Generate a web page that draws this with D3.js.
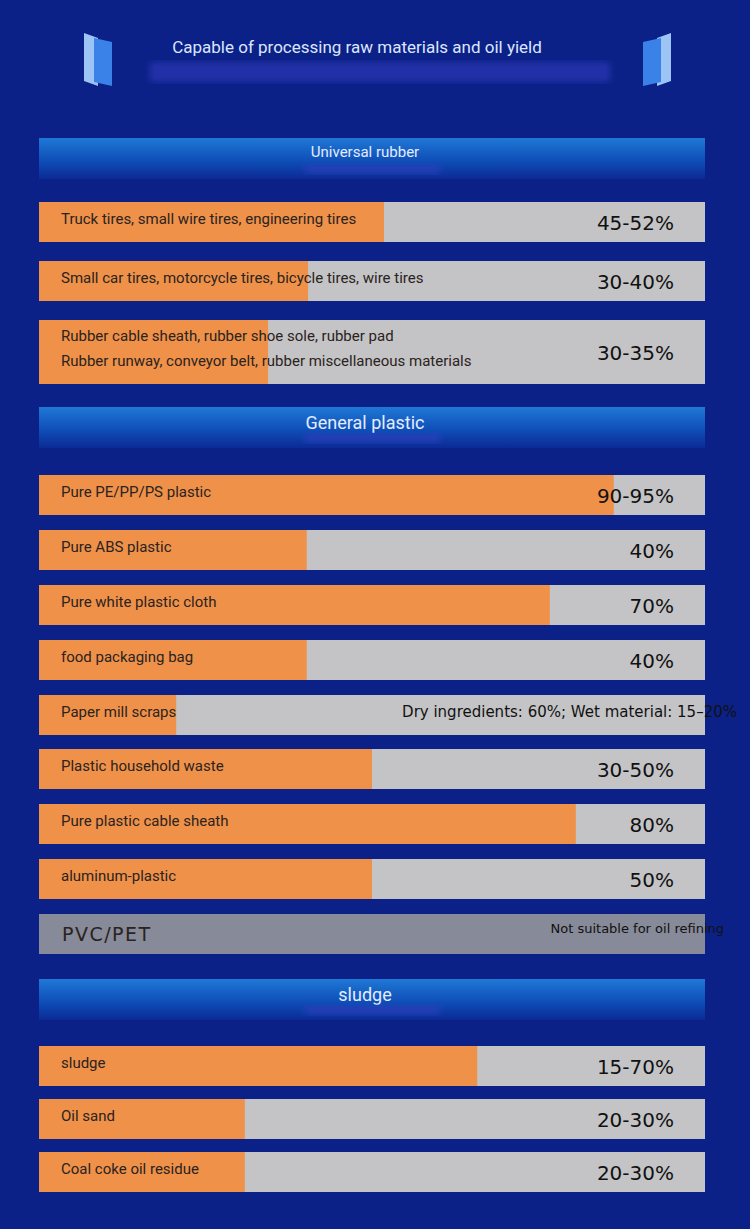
<!DOCTYPE html>
<html><head><meta charset="utf-8">
<script src="https://cdn.jsdelivr.net/npm/d3@7"></script>
<style>body{margin:0;background:#0b2187;}svg{display:block;}</style>
</head><body><svg id="chart" width="750" height="1229"></svg>
<script>
// ── Data ──────────────────────────────────────────
const sections = ["Universal rubber", "General plastic", "sludge"];
const labels = [
  ["Truck tires, small wire tires, engineering tires"],
  ["Small car tires, motorcycle tires, bicycle tires, wire tires"],
  ["Rubber cable sheath, rubber shoe sole, rubber pad", "Rubber runway, conveyor belt, rubber miscellaneous materials"],
  ["Pure PE/PP/PS plastic"], ["Pure ABS plastic"], ["Pure white plastic cloth"], ["food packaging bag"],
  ["Paper mill scraps"], ["Plastic household waste"], ["Pure plastic cable sheath"], ["aluminum-plastic"],
  ["PVC/PET"], ["sludge"], ["Oil sand"], ["Coal coke oil residue"]
];
const rowSection = [0,0,0,1,1,1,1,1,1,1,1,1,2,2,2];
const values = [51.8, 40.4, 34.4, 86.3, 40.2, 76.7, 40.2, 20.6, 50, 80.6, 50, 0, 65.8, 30.9, 30.9];
const yieldText = ["45-52%","30-40%","30-35%","90-95%","40%","70%","40%",
  "Dry ingredients: 60%; Wet material: 15–20%","30-50%","80%","50%",
  "Not suitable for oil refining","15-70%","20-30%","20-30%"];

const svg = d3.select('#chart');
const x = d3.scaleLinear().domain([0, 100]).range([39, 705]);

/* ── Title ─────────────────────────────────────── */
const defs = svg.append('defs');
const hg = defs.append('linearGradient').attr('id','hdr').attr('x1',0).attr('x2',0).attr('y1',0).attr('y2',1);
hg.append('stop').attr('offset',0).attr('stop-color','#1f78d6');
hg.append('stop').attr('offset',0.55).attr('stop-color','#0f4fb8');
hg.append('stop').attr('offset',1).attr('stop-color','#0b2a95');
defs.append('filter').attr('id','blur').append('feGaussianBlur').attr('stdDeviation',3);

[[84,112,1],[643,671,-1]].forEach(([a,b,d]) => {
  const g = svg.append('g');
  g.append('path').attr('d', d>0 ? `M${a},33 L${a+14},38 L${a+14},86 L${a},81Z` : `M${b},33 L${b-14},38 L${b-14},86 L${b},81Z`).attr('fill','#9cc4f5');
  g.append('path').attr('d', d>0 ? `M${a+10},38 L${b},42 L${b},86 L${a+10},82Z` : `M${b-10},38 L${a},42 L${a},86 L${b-10},82Z`).attr('fill','#3b82e8');
});
svg.append('text').attr('x',357).attr('y',53).attr('text-anchor','middle')
  .attr('font-family','Roboto, sans-serif').attr('font-size',17).attr('fill','#dce6ff')
  .text('Capable of processing raw materials and oil yield');
svg.append('rect').attr('x',150).attr('y',62).attr('width',460).attr('height',20).attr('fill','#3a3fc8').attr('opacity',0.5).attr('filter','url(#blur)');

/* ── Layout ────────────────────────────────────── */
const headerTops = [138, 407, 979];
const rowTops = [202, 261, 320, 475, 530, 585, 640, 695, 749, 804, 859, 914, 1046, 1099, 1152];
const rowH = i => labels[i].length > 1 ? 64 : 40;

headerTops.forEach((t, i) => {
  svg.append('rect').attr('x', x(0)).attr('y', t).attr('width', x(100)-x(0)).attr('height', 41).attr('fill','url(#hdr)');
  svg.append('text').attr('x', 365).attr('y', t + (i===0?19:22)).attr('text-anchor','middle')
    .attr('font-family','Roboto, sans-serif').attr('font-size', i===0?15:18).attr('fill','#e4ecff').text(sections[i]);
  svg.append('rect').attr('x',305).attr('y',t+26).attr('width',135).attr('height',10).attr('fill','#3340c0').attr('opacity',0.6).attr('filter','url(#blur)');
});

const rows = svg.selectAll('g.row').data(values).join('g').attr('class','row')
  .attr('transform', (d,i) => `translate(0,${rowTops[i]})`);
rows.append('rect').attr('x', x(0)).attr('width', x(100)-x(0)).attr('height', (d,i)=>rowH(i))
  .attr('fill', (d,i) => i===11 ? '#878a98' : '#c4c4c6');
rows.append('rect').attr('x', x(0)).attr('width', d => x(d)-x(0)).attr('height', (d,i)=>rowH(i)).attr('fill','#ef9149');
rows.each(function(d,i){
  const g = d3.select(this), n = labels[i].length;
  labels[i].forEach((l,k) => g.append('text').attr('x', i===11?62:61)
    .attr('y', n>1 ? 21+k*25 : (i===11?27:22))
    .attr('font-family', i===11 ? 'DejaVu Sans, sans-serif' : 'Roboto, sans-serif')
    .attr('font-size', i===11?19:15).attr('letter-spacing', i===11?1.5:0)
    .attr('fill','#2a2320').text(l));
  const small = i===7 || i===11;
  g.append('text').attr('x', small ? (i===7?737:724) : 674).attr('y', n>1 ? 40 : (small? (i===7?22:19) : 28))
    .attr('text-anchor','end').attr('font-family','DejaVu Sans, sans-serif')
    .attr('font-size', i===7?15:(i===11?13:20)).attr('fill','#111').text(yieldText[i]);
});
</script></body></html>
